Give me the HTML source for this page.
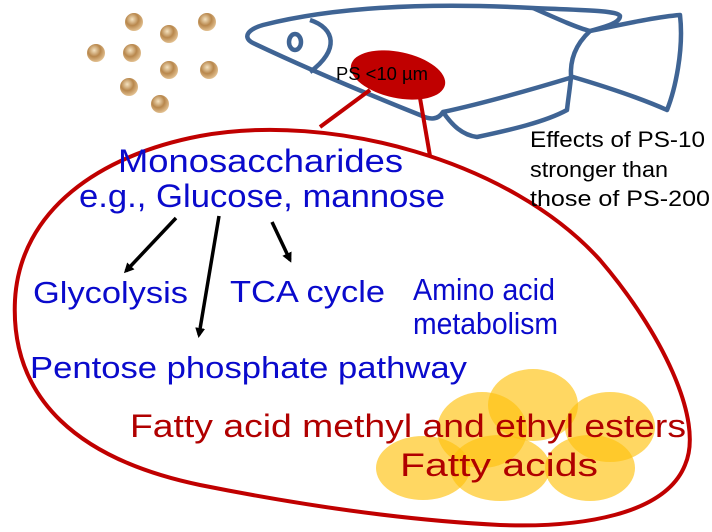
<html><body style="margin:0;background:#fff">
<svg width="712" height="532" viewBox="0 0 712 532" xmlns="http://www.w3.org/2000/svg" font-family="Liberation Sans, sans-serif">
<defs>
<radialGradient id="b" cx="0.4" cy="0.35" r="0.7"><stop offset="0" stop-color="#f4e2c0"/><stop offset="0.5" stop-color="#b8874c"/><stop offset="1" stop-color="#e8c89a"/></radialGradient>
<marker id="a" markerWidth="10" markerHeight="10" refX="7" refY="5" orient="auto" markerUnits="userSpaceOnUse"><path d="M0,0 L10,5 L0,10 z" fill="#000"/></marker>
</defs>
<g fill="url(#b)">
<circle cx="134" cy="22" r="9"/><circle cx="207" cy="22" r="9"/><circle cx="169" cy="34" r="9"/>
<circle cx="96" cy="53" r="9"/><circle cx="132" cy="53" r="9"/><circle cx="169" cy="70" r="9"/>
<circle cx="209" cy="70" r="9"/><circle cx="129" cy="87" r="9"/><circle cx="160" cy="104" r="9"/>
</g>
<g fill="none" stroke="#3f6494" stroke-width="4.5" stroke-linejoin="round">
<path d="M263,25 C330,8 420,2 533,8 C575,10 618,10 620,16 C620,24 600,28 590,31 C620,25 655,17 680,15 C684,50 675,90 667,110 C640,98 600,85 573,77 C530,90 480,104 443,112 C438,120 430,120 420,115 C370,95 310,70 253,43 C243,38 246,30 263,25 Z"/>
<path d="M533,8 C560,20 578,28 590,31"/>
<path d="M590,31 C575,45 570,60 571,77"/>
<path d="M443,112 C452,125 462,135 477,137 C510,130 545,122 567,110 C568,100 570,88 571,77"/>
<path d="M310,20 C335,28 340,50 310,72"/>
<ellipse cx="295" cy="42" rx="6" ry="8"/>
</g>
<ellipse cx="398" cy="75" rx="48" ry="23" transform="rotate(12 398 75)" fill="#c00000"/>
<g stroke="#c00000" stroke-width="4" fill="none">
<line x1="370" y1="90" x2="320" y2="127"/><line x1="420" y1="98" x2="430" y2="156"/>
<path d="M200,136 C330,112 510,160 600,260 C660,330 705,420 685,465 C665,515 580,528 500,525 C400,520 300,505 200,485 C80,460 10,400 15,300 C20,210 100,155 200,136 Z"/>
</g>
<text x="336" y="80" font-size="18" fill="#000" textLength="92" lengthAdjust="spacingAndGlyphs">PS &lt;10 µm</text>
<g fill="#ffc20e" fill-opacity="0.65">
<ellipse cx="423" cy="468" rx="47" ry="32"/><ellipse cx="482" cy="430" rx="45" ry="38"/>
<ellipse cx="533" cy="405" rx="45" ry="36"/><ellipse cx="610" cy="427" rx="45" ry="35"/>
<ellipse cx="590" cy="468" rx="45" ry="33"/><ellipse cx="500" cy="468" rx="50" ry="33"/>
</g>
<g fill="#0a0acc" font-size="31">
<text x="118" y="172" font-size="32" textLength="285" lengthAdjust="spacingAndGlyphs">Monosaccharides</text>
<text x="79" y="207" font-size="32" textLength="366" lengthAdjust="spacingAndGlyphs">e.g., Glucose, mannose</text>
<text x="33" y="303" textLength="155" lengthAdjust="spacingAndGlyphs">Glycolysis</text>
<text x="230" y="302" textLength="155" lengthAdjust="spacingAndGlyphs">TCA cycle</text>
<text x="413" y="300" textLength="142" lengthAdjust="spacingAndGlyphs">Amino acid</text>
<text x="413" y="334" textLength="145" lengthAdjust="spacingAndGlyphs">metabolism</text>
<text x="30" y="378" textLength="437" lengthAdjust="spacingAndGlyphs">Pentose phosphate pathway</text>
</g>
<g fill="#b00000" font-size="32">
<text x="130" y="437" textLength="556" lengthAdjust="spacingAndGlyphs">Fatty acid methyl and ethyl esters</text>
<text x="400" y="476" textLength="198" lengthAdjust="spacingAndGlyphs">Fatty acids</text>
</g>
<g font-size="22" fill="#000">
<text x="530" y="147" textLength="175" lengthAdjust="spacingAndGlyphs">Effects of PS-10</text>
<text x="530" y="177" textLength="138" lengthAdjust="spacingAndGlyphs">stronger than</text>
<text x="530" y="206" textLength="180" lengthAdjust="spacingAndGlyphs">those of  PS-200</text>
</g>
<g stroke="#000" stroke-width="3.5" marker-end="url(#a)">
<line x1="176" y1="218" x2="126" y2="271"/>
<line x1="219" y1="216" x2="199" y2="335"/>
<line x1="272" y1="222" x2="290" y2="260"/>
</g>
</svg>
</body></html>
